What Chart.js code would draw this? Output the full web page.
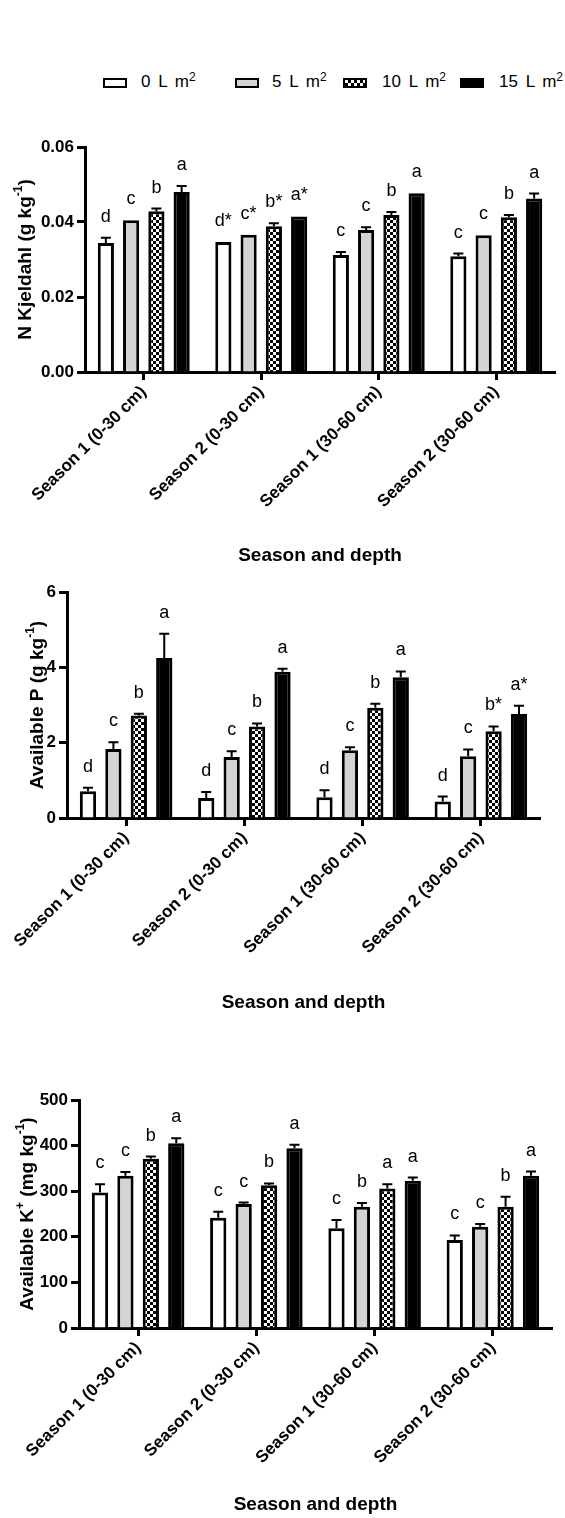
<!DOCTYPE html>
<html>
<head>
<meta charset="utf-8">
<script src="https://cdn.jsdelivr.net/npm/chart.js@4.4.1/dist/chart.umd.min.js"></script>
<style>
  body { margin:0; background:#fff; width:565px; height:1518px; position:relative; overflow:hidden; font-family:'Liberation Sans', Arial, sans-serif; }
  .wrap { position:absolute; left:0; width:565px; }
  .sw { position:absolute; top:78px; width:24px; height:10px; box-sizing:border-box; border:2.5px solid #000; }
  .lt { position:absolute; top:72px; font-size:17px; line-height:20px; word-spacing:3px; color:#000; white-space:nowrap; }
  .lt sup { font-size:12px; vertical-align:6px; line-height:0; }
  .check { background:repeating-conic-gradient(#000 0% 25%, #fff 0% 50%); background-size:6px 6px; }
</style>
</head>
<body>
<div class="sw" style="left:103px;background:#fff"></div><div class="lt" style="left:141px">0 L m<sup>2</sup></div>
<div class="sw" style="left:235px;background:#d4d4d4"></div><div class="lt" style="left:272px">5 L m<sup>2</sup></div>
<div class="sw check" style="left:343px"></div><div class="lt" style="left:382px">10 L m<sup>2</sup></div>
<div class="sw" style="left:460px;background:#000"></div><div class="lt" style="left:499px">15 L m<sup>2</sup></div>

<div class="wrap" style="top:100px;height:470px"><canvas id="chartN"></canvas></div>
<div class="wrap" style="top:575px;height:440px"><canvas id="chartP"></canvas></div>
<div class="wrap" style="top:1020px;height:498px"><canvas id="chartK"></canvas></div>

<script>
const categories = ['Season 1 (0-30 cm)', 'Season 2 (0-30 cm)', 'Season 1 (30-60 cm)', 'Season 2 (30-60 cm)'];
const treatments = ['0 L m²', '5 L m²', '10 L m²', '15 L m²'];

// N Kjeldahl (g kg-1)
const n0 = [0.0344, 0.0347, 0.0312, 0.0309];
const n5 = [0.0405, 0.0366, 0.0379, 0.0365];
const n10 = [0.0429, 0.0389, 0.0419, 0.0413];
const n15 = [0.0480, 0.0415, 0.0477, 0.0463];
const n0Err = [0.0014, 0, 0.0008, 0.0007];
const n5Err = [0, 0, 0.0007, 0];
const n10Err = [0.0007, 0.0008, 0.0008, 0.0006];
const n15Err = [0.0016, 0, 0, 0.0013];
const n0Let = ['d', 'd*', 'c', 'c'];
const n5Let = ['c', 'c*', 'c', 'c'];
const n10Let = ['b', 'b*', 'b', 'b'];
const n15Let = ['a', 'a*', 'a', 'a'];

// Available P (g kg-1)
const p0 = [0.71, 0.53, 0.55, 0.44];
const p5 = [1.83, 1.62, 1.80, 1.64];
const p10 = [2.72, 2.43, 2.93, 2.30];
const p15 = [4.25, 3.88, 3.74, 2.76];
const p0Err = [0.09, 0.16, 0.19, 0.13];
const p5Err = [0.18, 0.15, 0.08, 0.18];
const p10Err = [0.05, 0.08, 0.10, 0.13];
const p15Err = [0.64, 0.08, 0.15, 0.22];
const p0Let = ['d', 'd', 'd', 'd'];
const p5Let = ['c', 'c', 'c', 'c'];
const p10Let = ['b', 'b', 'b', 'b*'];
const p15Let = ['a', 'a', 'a', 'a*'];

// Available K+ (mg kg-1)
const k0 = [297, 242, 219, 193];
const k5 = [334, 272, 266, 222];
const k10 = [371, 313, 306, 266];
const k15 = [405, 394, 323, 334];
const k0Err = [18, 13, 18, 10];
const k5Err = [8, 3, 8, 6];
const k10Err = [5, 4, 9, 22];
const k15Err = [11, 8, 7, 9];
const k0Let = ['c', 'c', 'c', 'c'];
const k5Let = ['c', 'c', 'b', 'c'];
const k10Let = ['b', 'b', 'a', 'b'];
const k15Let = ['a', 'a', 'a', 'a'];

const nTicks = ['0.00', '0.02', '0.04', '0.06'];
const pTicks = ['0', '2', '4', '6'];
const kTicks = ['0', '100', '200', '300', '400', '500'];

const FONT = "'Liberation Sans', Arial, sans-serif";
Chart.defaults.font.family = FONT;
Chart.defaults.color = '#000';

// checkered fill for the 10 L bars
var pc = document.createElement('canvas');
pc.width = 6; pc.height = 6;
var pctx = pc.getContext('2d');
pctx.fillStyle = '#fff'; pctx.fillRect(0, 0, 6, 6);
pctx.fillStyle = '#000'; pctx.fillRect(0, 0, 3, 3); pctx.fillRect(3, 3, 3, 3);
const checker = pctx.createPattern(pc, 'repeat');
const fills = ['#ffffff', '#d4d4d4', checker, '#000000'];

const errLetters = {
  id: 'errLetters',
  afterDatasetsDraw(chart) {
    const ctx = chart.ctx, y = chart.scales.y;
    ctx.save();
    chart.data.datasets.forEach(function(ds, i) {
      chart.getDatasetMeta(i).data.forEach(function(bar, j) {
        var top = y.getPixelForValue(ds.data[j] + ds.errors[j]);
        if (ds.errors[j] > 0) {
          ctx.strokeStyle = '#000';
          ctx.lineWidth = 2;
          ctx.beginPath();
          ctx.moveTo(bar.x, bar.y);
          ctx.lineTo(bar.x, top);
          ctx.moveTo(bar.x - 5, top);
          ctx.lineTo(bar.x + 5, top);
          ctx.stroke();
        }
        ctx.fillStyle = '#000';
        ctx.font = '18px ' + FONT;
        ctx.textAlign = 'center';
        ctx.textBaseline = 'alphabetic';
        ctx.fillText(ds.letters[j], bar.x, top - 16);
      });
    });
    ctx.restore();
  }
};

// y title with superscripts
const yTitle = {
  id: 'yTitle',
  afterDraw(chart, args, o) {
    const ctx = chart.ctx, a = chart.chartArea;
    const big = 'bold 19px ' + FONT, small = 'bold 12px ' + FONT;
    ctx.save();
    ctx.translate(o.x, (a.top + a.bottom) / 2);
    ctx.rotate(-Math.PI / 2);
    ctx.fillStyle = '#000';
    ctx.textBaseline = 'middle';
    ctx.textAlign = 'left';
    var w = 0;
    o.parts.forEach(function(p) { ctx.font = p[1] ? small : big; w += ctx.measureText(p[0]).width; });
    var x = -w / 2;
    o.parts.forEach(function(p) {
      ctx.font = p[1] ? small : big;
      ctx.fillText(p[0], x, p[1] ? -7 : 0);
      x += ctx.measureText(p[0]).width;
    });
    ctx.restore();
  }
};

function makeChart(id, cfg) {
  return new Chart(document.getElementById(id), {
    type: 'bar',
    data: {
      labels: categories,
      datasets: treatments.map(function(t, i) {
        return {
          label: t,
          data: cfg.values[i],
          errors: cfg.errors[i],
          letters: cfg.letters[i],
          backgroundColor: fills[i],
          borderColor: '#000',
          borderWidth: 3
        };
      })
    },
    options: {
      responsive: true,
      maintainAspectRatio: false,
      animation: false,
      layout: { padding: { top: cfg.padTop, right: cfg.padRight, left: 0, bottom: 0 } },
      datasets: { bar: { categoryPercentage: 0.86, barPercentage: 0.64 } },
      plugins: {
        legend: { display: false },
        tooltip: { enabled: false },
        yTitle: { parts: cfg.title, x: cfg.titleX }
      },
      scales: {
        x: {
          grid: { drawOnChartArea: false, drawTicks: true, tickLength: 8, tickWidth: 3, tickColor: '#000', color: '#000', offset: false },
          border: { color: '#000', width: 3 },
          ticks: { color: '#000', font: { size: 17, weight: 'bold' }, minRotation: 45, maxRotation: 45, autoSkip: false, padding: 2 },
          title: { display: true, text: 'Season and depth', color: '#000', font: { size: 19, weight: 'bold' }, padding: { top: 0, bottom: cfg.xTitlePad } },
          afterFit: function(s) { s.height = cfg.xHeight; }
        },
        y: {
          min: 0,
          max: cfg.max,
          grid: { drawOnChartArea: false, drawTicks: true, tickLength: 8, tickWidth: 3, tickColor: '#000', color: '#000' },
          border: { color: '#000', width: 3 },
          ticks: {
            stepSize: cfg.step, color: '#000', font: { size: 17, weight: 'bold' }, padding: 3,
            callback: function(v, i) { return cfg.tickLabels[i]; }
          },
          afterFit: function(s) { s.width = cfg.yWidth; }
        }
      }
    },
    plugins: [errLetters, yTitle]
  });
}

makeChart('chartN', {
  values: [n0, n5, n10, n15], errors: [n0Err, n5Err, n10Err, n15Err], letters: [n0Let, n5Let, n10Let, n15Let],
  max: 0.06, step: 0.02, tickLabels: nTicks,
  title: [['N Kjeldahl (g kg', 0], ['-1', 1], [')', 0]], titleX: 26,
  padTop: 47, padRight: 10, yWidth: 85, xHeight: 198, xTitlePad: 3
});

makeChart('chartP', {
  values: [p0, p5, p10, p15], errors: [p0Err, p5Err, p10Err, p15Err], letters: [p0Let, p5Let, p10Let, p15Let],
  max: 6, step: 2, tickLabels: pTicks,
  title: [['Available P (g kg', 0], ['-1', 1], [')', 0]], titleX: 38,
  padTop: 17, padRight: 25, yWidth: 67, xHeight: 197, xTitlePad: 1
});

makeChart('chartK', {
  values: [k0, k5, k10, k15], errors: [k0Err, k5Err, k10Err, k15Err], letters: [k0Let, k5Let, k10Let, k15Let],
  max: 500, step: 100, tickLabels: kTicks,
  title: [['Available K', 0], ['+', 1], [' (mg kg', 0], ['-1', 1], [')', 0]], titleX: 28,
  padTop: 80, padRight: 13, yWidth: 79, xHeight: 190, xTitlePad: 2
});
</script>
</body>
</html>
